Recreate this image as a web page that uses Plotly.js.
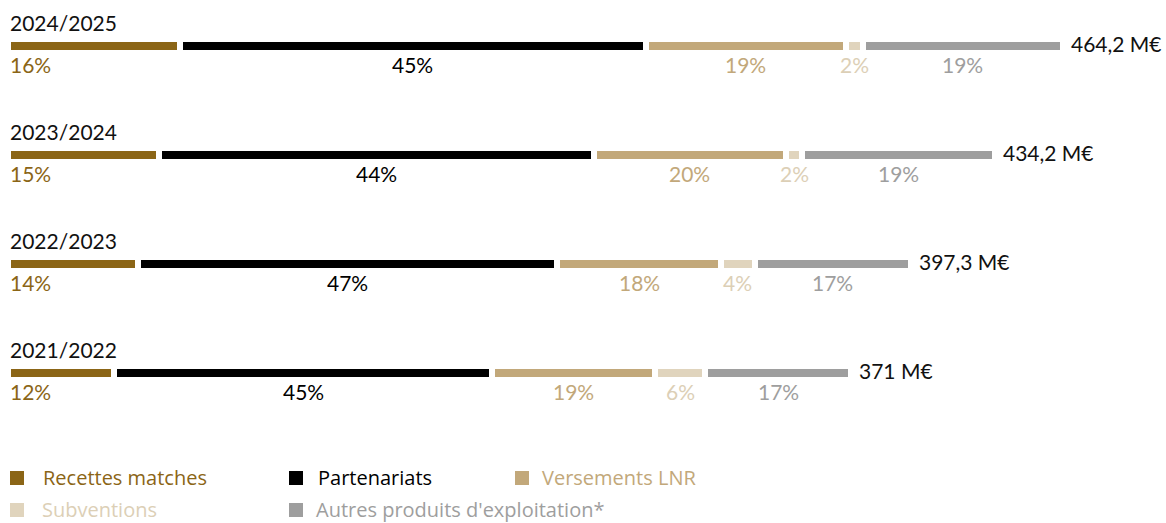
<!DOCTYPE html>
<html>
<head>
<meta charset="utf-8">
<script src="https://cdn.plot.ly/plotly-3.0.1.min.js"></script>
<style>html,body{margin:0;padding:0;background:#fff;}#chart{width:1166px;height:523px;}</style>
</head>
<body>
<div id="chart"></div>
<script>
// ---- data (M€) ----
const years = ['2021/2022', '2022/2023', '2023/2024', '2024/2025'];
const totals = [371, 397.3, 434.2, 464.2];
const totalLabels = ['371 M€', '397,3 M€', '434,2 M€', '464,2 M€'];
const seriesNames = ['Recettes matches', 'Partenariats', 'Versements LNR', 'Subventions', "Autres produits d'exploitation*"];
const recettes = [46.6, 57.3, 66.3, 75.7];
const partenariats = [166.6, 184.4, 191.5, 205.0];
const versements = [71.7, 72.3, 84.7, 88.0];
const subventions = [22.0, 14.6, 7.0, 7.5];
const autres = [64.1, 68.7, 84.7, 88.0];
const pctRecettes = ['12%', '14%', '15%', '16%'];
const pctPartenariats = ['45%', '47%', '44%', '45%'];
const pctVersements = ['19%', '18%', '20%', '19%'];
const pctSubventions = ['6%', '4%', '2%', '2%'];
const pctAutres = ['17%', '17%', '19%', '19%'];

// ---- styles ----
const colors = ['#8b6516', '#000000', '#c2a87a', '#e0d4bd', '#9e9e9e'];
const labelColors = ['#8b6516', '#000000', '#c2a87a', '#dccfb6', '#9e9e9e'];
const FONT = 'Lato, "Open Sans", sans-serif';
const LFONT = '"Open Sans", Lato, sans-serif';
const FS = 21;

const seriesValues = [recettes, partenariats, versements, subventions, autres];
const seriesPct = [pctRecettes, pctPartenariats, pctVersements, pctSubventions, pctAutres];

const traces = seriesValues.map((vals, i) => ({
  type: 'bar',
  orientation: 'h',
  name: seriesNames[i],
  y: years,
  x: vals,
  width: 0.1284,
  marker: {color: colors[i], line: {color: '#ffffff', width: 6}},
  hoverinfo: 'x+name',
  showlegend: false
}));

const annotations = [];
years.forEach((yr, k) => {
  annotations.push({x: 0, y: yr, xref: 'x', yref: 'y', text: yr, showarrow: false,
    xanchor: 'left', yanchor: 'middle', xshift: 0, yshift: 23,
    font: {family: FONT, size: FS, color: '#111'}});
  annotations.push({x: totals[k], y: yr, xref: 'x', yref: 'y', text: totalLabels[k], showarrow: false,
    xanchor: 'left', yanchor: 'middle', xshift: 6, yshift: 2,
    font: {family: FONT, size: FS, color: '#111'}});
  let cum = 0;
  seriesValues.forEach((vals, i) => {
    const v = vals[k];
    const first = i === 0;
    annotations.push({x: first ? cum : cum + v / 2, y: yr, xref: 'x', yref: 'y',
      text: seriesPct[i][k], showarrow: false,
      xanchor: first ? 'left' : 'center', yanchor: 'middle', yshift: -19,
      font: {family: FONT, size: FS, color: labelColors[i]}});
    cum += v;
  });
});

// ---- custom legend (page pixel positions) ----
const W = 1166, ML = 8, MR = 22, PH = 423;
const px = p => (p - ML) / (W - ML - MR);
const py = p => (PH - p) / PH;
const legendItems = [
  {sq: 17, tx: 43, row: 477},
  {sq: 296, tx: 318, row: 477},
  {sq: 522, tx: 542, row: 477},
  {sq: 17, tx: 42, row: 509},
  {sq: 296, tx: 316, row: 509}
];
const shapes = [];
legendItems.forEach((it, i) => {
  shapes.push({type: 'rect', xref: 'paper', yref: 'paper', xsizemode: 'pixel', ysizemode: 'pixel',
    xanchor: px(it.sq), yanchor: py(it.row + 1), x0: -7, x1: 7, y0: -7, y1: 7,
    fillcolor: colors[i], line: {width: 0}});
  annotations.push({xref: 'paper', yref: 'paper', x: px(it.tx), y: py(it.row), text: seriesNames[i],
    showarrow: false, xanchor: 'left', yanchor: 'middle', borderpad: 0, borderwidth: 0,
    font: {family: LFONT, size: 20, color: labelColors[i]}});
});

const layout = {
  width: 1166, height: 523,
  margin: {l: ML, r: MR, t: 0, b: 523 - PH, pad: 0},
  barmode: 'stack',
  paper_bgcolor: '#ffffff', plot_bgcolor: '#ffffff',
  showlegend: false,
  xaxis: {range: [0, 500], visible: false, fixedrange: true},
  yaxis: {type: 'category', categoryarray: years, range: [-0.459, 3.422], visible: false, fixedrange: true},
  annotations: annotations,
  shapes: shapes,
  font: {family: FONT, size: FS}
};

Plotly.newPlot('chart', traces, layout, {displayModeBar: false, staticPlot: true});
</script>
</body>
</html>
